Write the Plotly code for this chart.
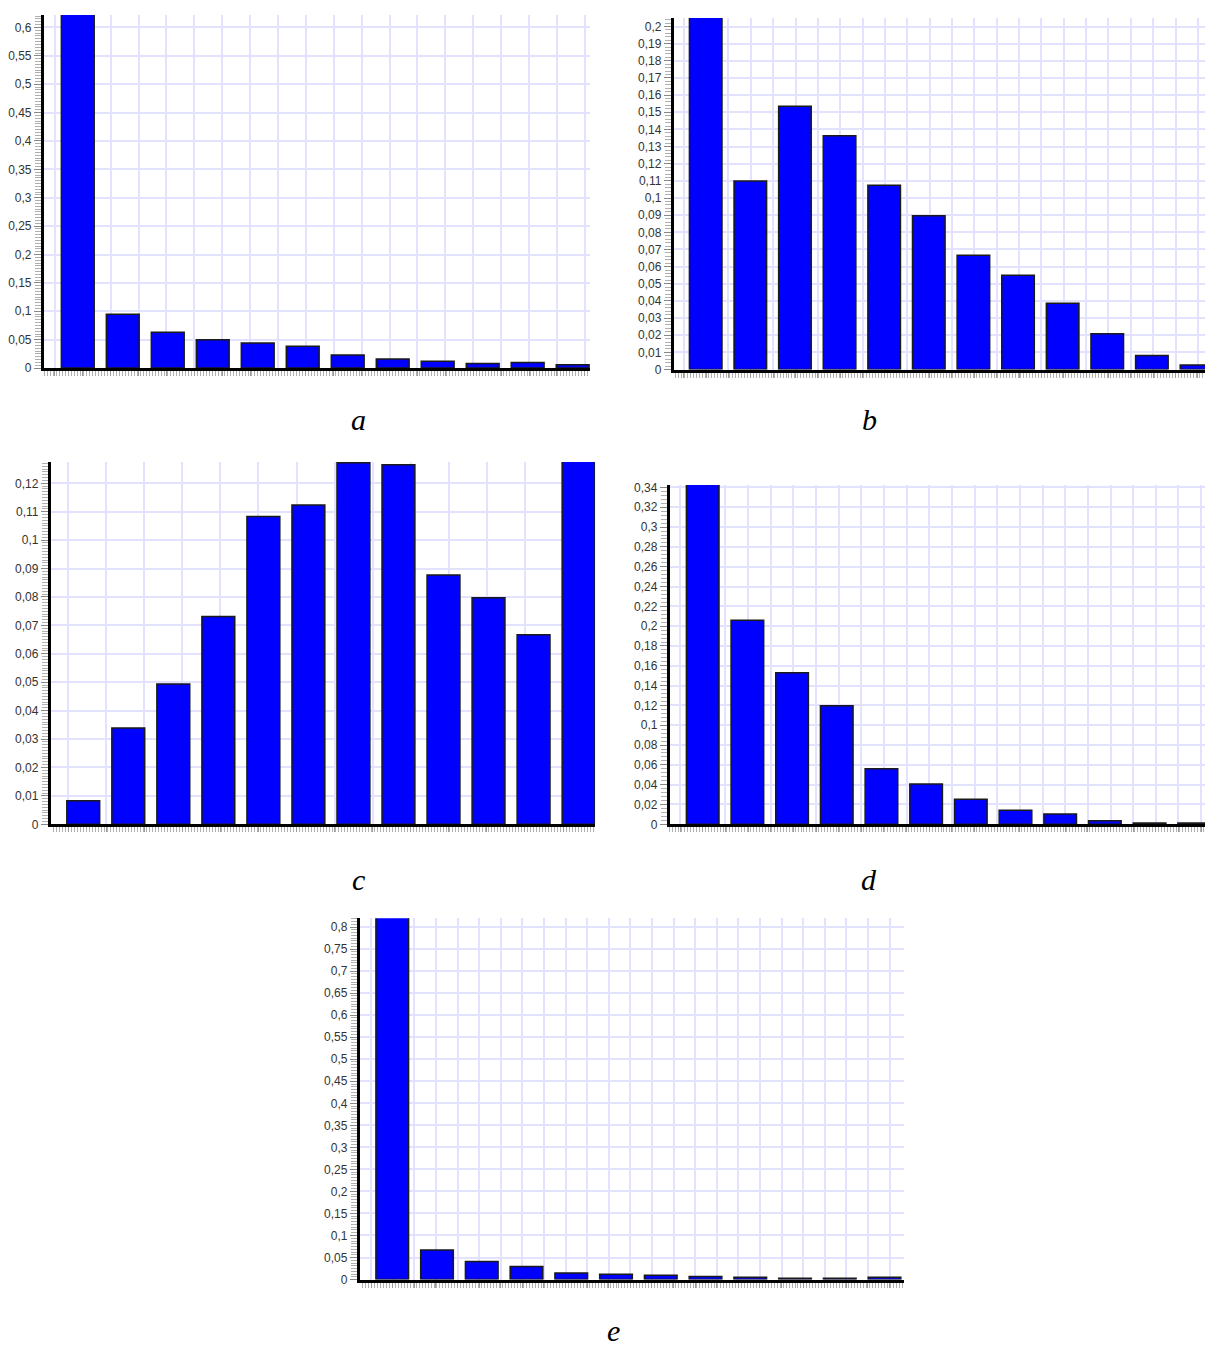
import plotly.graph_objects as go

# ---------------- data ----------------
categories = list(range(1, 13))
vals_a = [0.64, 0.0947, 0.0633, 0.050, 0.0442, 0.0384, 0.023, 0.016, 0.012, 0.008, 0.010, 0.006]
vals_b = [0.21, 0.110, 0.1535, 0.1363, 0.1074, 0.0897, 0.0666, 0.0550, 0.0386, 0.0209, 0.0082, 0.0026]
vals_c = [0.0083, 0.0339, 0.0494, 0.0731, 0.1083, 0.1124, 0.1272, 0.1265, 0.0877, 0.0797, 0.0667, 0.13]
vals_d = [0.35, 0.2061, 0.1530, 0.1196, 0.0561, 0.0408, 0.0254, 0.0143, 0.0103, 0.0037, 0.0013, 0.0013]
vals_e = [0.83, 0.067, 0.041, 0.0297, 0.015, 0.012, 0.0095, 0.007, 0.005, 0.003, 0.003, 0.005]
panel_labels = ["a", "b", "c", "d", "e"]
series = [vals_a, vals_b, vals_c, vals_d, vals_e]

# page body has an 8px default margin: size the figure to fit and offset positions
OFF = 8
W, H = 1213 - OFF, 1354 - OFF

def dx(p):
    return (p - OFF) / W

def dy(p):
    return 1 - (p - OFF) / H

# layout of each panel (pixel box on page, axis ranges, grid steps)
panels = [
    dict(box=(40, 588, 3 + OFF, 367), xr=(0.247, 12.387), yr=(0, 0.622), ydt=0.05, ymin=0.005,
         gx0=0.4905, gdt=0.62, lab=(356, 419)),
    dict(box=(672, 1213, 14, 368.5), xr=(0.285, 12.37), yr=(0, 0.205), ydt=0.01, ymin=0.002,
         gx0=1.51, gdt=0.501, lab=(868, 419)),
    dict(box=(47, 593, 461.7, 827), xr=(0.281, 12.366), yr=(0, 0.1275), ydt=0.01, ymin=0.001,
         gx0=0.664, gdt=0.8455, lab=(356, 883)),
    dict(box=(668, 1213, 485, 827), xr=(0.264, 12.42), yr=(0, 0.3424), ydt=0.02, ymin=0.004,
         gx0=0.494, gdt=0.507, lab=(868, 883)),
    dict(box=(357, 903, 921.7, 1286), xr=(0.276, 12.436), yr=(0, 0.82), ydt=0.05, ymin=0.00625,
         gx0=0.528, gdt=0.4827, lab=(612, 1337)),
]

fig = go.Figure()
layout = dict(
    width=W, height=H,
    margin=dict(l=0, r=0, t=0, b=0),
    paper_bgcolor="white", plot_bgcolor="white",
    showlegend=False, separators=", ",
    font=dict(family="Liberation Sans, Arial, sans-serif", size=12, color="#333333"),
    annotations=[],
)

GRID = "#E2E2FF"
for i, (p, vals) in enumerate(zip(panels, series)):
    n = "" if i == 0 else str(i + 1)
    xa, ya = "x" + n, "y" + n
    fig.add_trace(go.Bar(
        x=categories, y=vals, xaxis=xa, yaxis=ya, width=0.73,
        marker=dict(color="#0000FF", line=dict(color="#1a1a1a", width=1.5)),
    ))
    x0, x1, y0, y1 = p["box"]
    layout["xaxis" + n] = dict(
        domain=[dx(x0), min(dx(x1), 1)], anchor=ya, range=list(p["xr"]),
        showticklabels=False, showline=True, linecolor="black", linewidth=3,
        showgrid=True, gridcolor=GRID, gridwidth=2, zeroline=False,
        tickmode="linear", tick0=p["gx0"], dtick=p["gdt"],
        ticks="outside", ticklen=5, tickcolor="#9a9a9a", tickwidth=1,
        minor=dict(ticks="outside", tick0=0, dtick=1 / 15, ticklen=5,
                   tickcolor="#b0b0b0", tickwidth=1, showgrid=False),
    )
    layout["yaxis" + n] = dict(
        domain=[dy(y1), min(dy(y0), 1)], anchor=xa, range=list(p["yr"]),
        showline=True, linecolor="black", linewidth=3,
        showgrid=True, gridcolor=GRID, gridwidth=2, zeroline=False,
        tickmode="linear", tick0=0, dtick=p["ydt"],
        ticks="outside", ticklen=7, tickcolor="#888888", tickwidth=1,
        tickfont=dict(size=12, color="#333333"),
        minor=dict(ticks="outside", tick0=0, dtick=p["ymin"], ticklen=6,
                   tickcolor="#b0b0b0", tickwidth=1, showgrid=False),
    )
    lx, ly = p["lab"]
    layout["annotations"].append(dict(
        text="<i>" + panel_labels[i] + "</i>", x=dx(lx), y=dy(ly),
        xref="paper", yref="paper", showarrow=False, xanchor="center", yanchor="middle",
        font=dict(family="Liberation Serif, Times New Roman, serif", size=30, color="black"),
    ))

fig.update_layout(**layout)
fig.write_html("out.html")
